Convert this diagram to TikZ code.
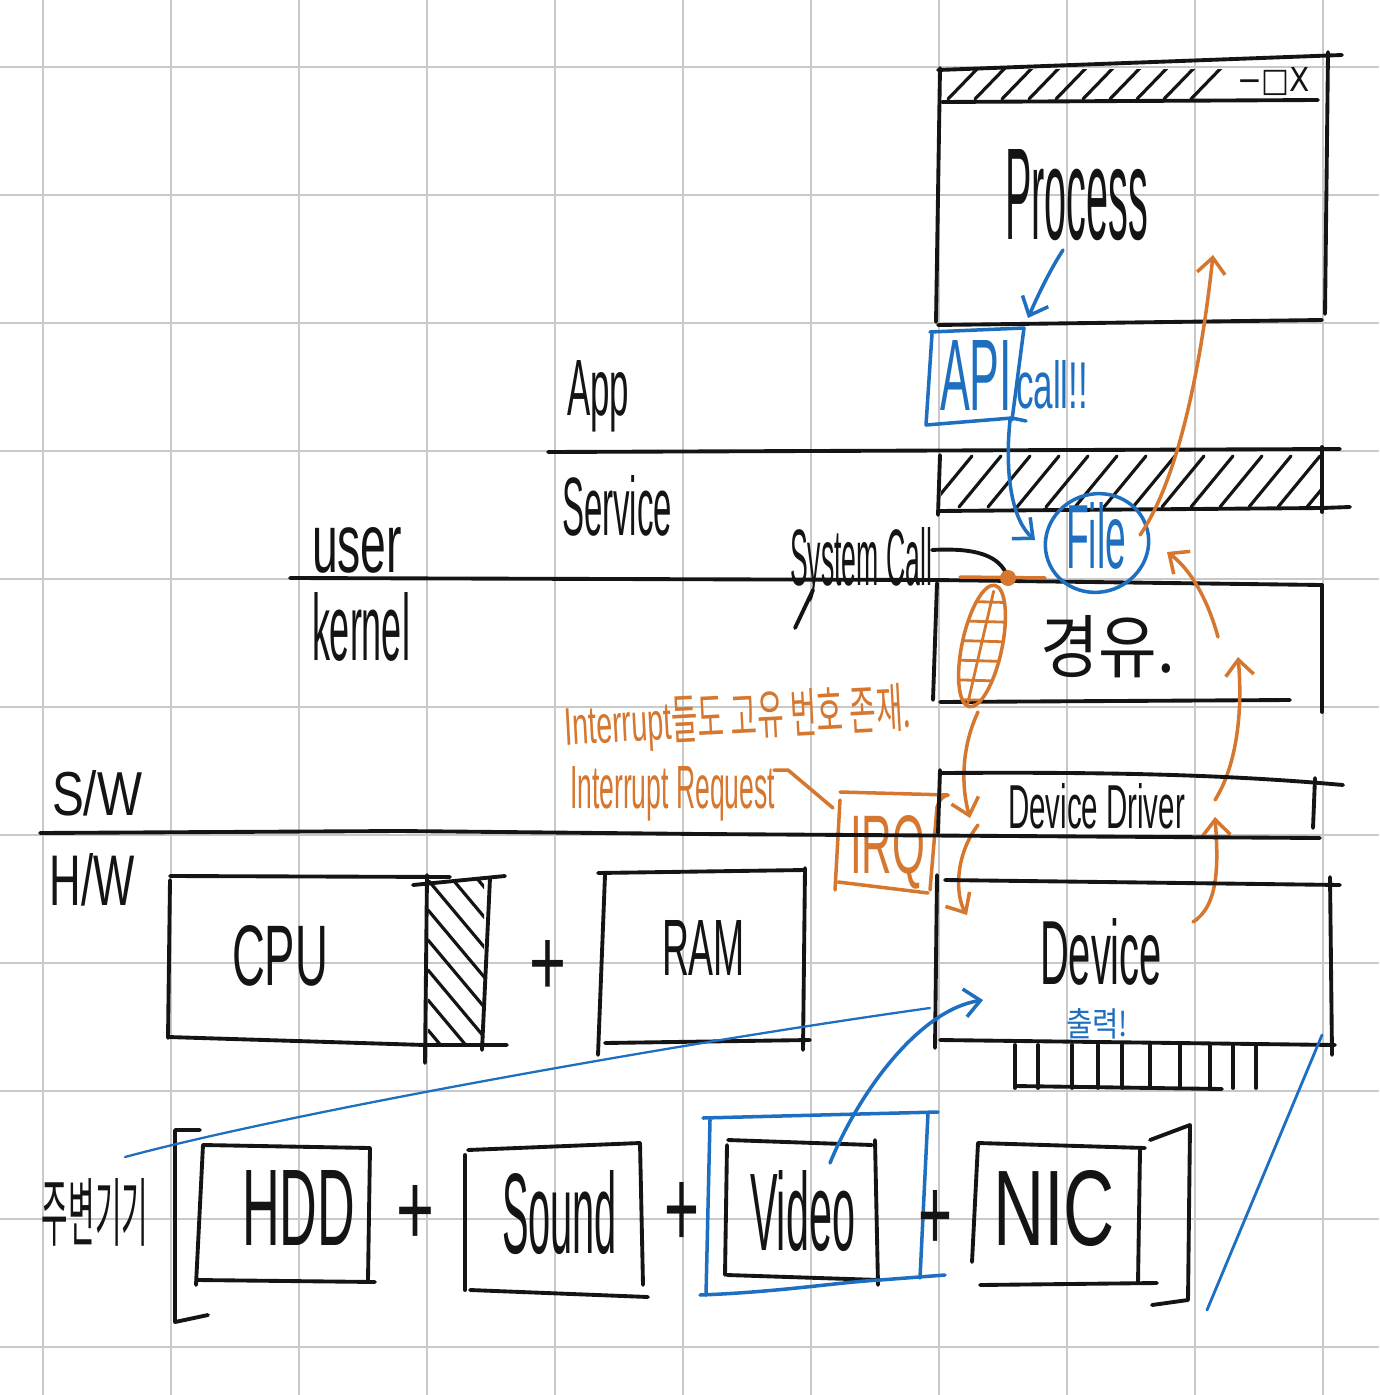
\documentclass[tikz,border=0pt]{standalone}
\usepackage{fontspec}
\usepackage{graphicx}
\setmainfont{Liberation Sans}
\newfontfamily\kr{Noto Sans CJK KR}
\newfontfamily\djv{DejaVu Sans}
\usetikzlibrary{arrows.meta}
\newdimen\pxu \pxu=0.02cm
\newcommand{\fit}[3]{\resizebox{#1\pxu}{#2\pxu}{#3}}
\definecolor{ink}{HTML}{141414}
\definecolor{bl}{HTML}{1E6FC0}
\definecolor{org}{HTML}{D5772E}
\definecolor{gridc}{HTML}{C9C9C9}
\begin{document}
\begin{tikzpicture}[x=0.02cm,y=-0.02cm,
  pen/.style={draw=ink,line width=2.2pt,line cap=round,line join=round},
  hpen/.style={draw=ink,line width=1.8pt,line cap=round},
  bpen/.style={draw=bl,line width=2pt,line cap=round,line join=round},
  opn/.style={draw=org,line width=2pt,line cap=round,line join=round},
  barb/.style={-{Straight Barb[length=9pt,width=16pt]}},
  txt/.style={inner sep=0pt,outer sep=0pt,anchor=base west,text=ink},
  pls/.style={inner sep=0pt,outer sep=0pt,anchor=center,text=ink}]
\useasboundingbox (0,0) rectangle (1379,1395);
\fill[white] (0,0) rectangle (1379,1395);
% grid
\foreach \i in {0,...,10}{
  \draw[gridc,line width=1.6pt] ({43+128*\i},0) -- ({43+128*\i},1395);
  \draw[gridc,line width=1.6pt] (0,{67+128*\i}) -- (1379,{67+128*\i});
}
% ---------- Process window ----------
\draw[pen] (938,70) -- (1342,55);
\draw[pen] (942,102) -- (1318,100);
\draw[pen] (940,68) -- (936,322);
\draw[pen] (1328,52) -- (1325,314);
\draw[pen] (938,325) -- (1322,320);
\begin{scope}
\clip (942,70) rectangle (1222,100);
\foreach \i in {0,...,9} \draw[hpen] ({948+27*\i},99) -- ({980+27*\i},66);
\end{scope}
\node[txt] (winbtn) at (1237,92) {\fit{73}{24}{\djv −□X}};
\node[txt] (proc) at (1005,240) {\fit{143}{90}{Process}};
% ---------- API box ----------
\draw[bpen] (930,332) -- (1024,328) -- (1012,420);
\draw[bpen] (932,334) -- (926,425) -- (1012,418) -- (1026,421);
\node[txt,text=bl] (api) at (940,410) {\fit{72}{70}{API}};
\node[txt,text=bl] (call) at (1016,408) {\fit{72}{48}{call!!}};
\coordinate (pa1) at (1063,250);
\coordinate (pa2) at (1028,318);
\draw[bpen,barb] (pa1) .. controls (1050,270) and (1038,295) .. (pa2);
% ---------- App / Service band ----------
\draw[pen] (548,452) -- (1340,449);
\draw[pen] (940,455) -- (938,515);
\draw[pen] (1322,447) -- (1322,512);
\draw[pen] (938,511) -- (1322,508) -- (1350,507);
\begin{scope}
\clip (941,453) rectangle (1320,509);
\foreach \i in {0,...,13} \draw[hpen] ({930+29*\i},507) -- ({972+29*\i},456);
\end{scope}
\node[txt] (app) at (567,415) {\fit{62}{55}{App}};
\node[txt] (svc) at (562,535) {\fit{110}{60}{Service}};
% ---------- user / kernel ----------
\draw[pen] (290,578) -- (935,580);
\node[txt] (user) at (312,572) {\fit{90}{45}{user}};
\node[txt] (kern) at (312,660) {\fit{98}{68}{kernel}};
% kernel box
\draw[pen] (935,580) -- (1322,585);
\draw[pen] (937,583) -- (933,700);
\draw[pen] (1322,585) -- (1322,712);
\draw[pen] (940,702) -- (1290,700);
\node[txt] (kyu) at (1040,672) {\fit{135}{57}{\kr 경유.}};
% File
\draw[bpen,rotate around={20:(1097,543)}] (1097,543) ellipse [x radius=52, y radius=49];
\node[txt,text=bl] (file) at (1066,568) {\fit{60}{66}{File}};
\coordinate (af1) at (1010,420);
\coordinate (af2) at (1035,540);
\draw[bpen,barb] (af1) .. controls (1004,480) and (1014,522) .. (af2);
% System call
\node[txt] (sysc) at (790,585) {\fit{142}{58}{System Call}};
\draw[pen] (813,590) -- (795,628);
\coordinate (sc1) at (932,550);
\coordinate (dot) at (1008,578);
\draw[pen] (sc1) .. controls (985,547) and (1002,560) .. (dot);
\draw[opn] (960,577) -- (1045,578);
\fill[org] (dot) circle [radius=8];
% orange leaf
\begin{scope}[rotate around={-12:(982,646)}]
\draw[opn] (982,646) ellipse [x radius=20, y radius=62];
\clip (982,646) ellipse [x radius=20, y radius=62];
\foreach \y in {600,620,...,700} \draw[opn,line width=1.6pt] (955,\y+6) -- (1010,\y-4);
\draw[opn,line width=1.6pt] (982,590) -- (980,705);
\end{scope}
% ---------- orange arrows ----------
\coordinate (o1a) at (1140,535);
\coordinate (o1b) at (1213,255);
\draw[opn,barb] (o1a) .. controls (1185,470) and (1205,330) .. (o1b);
\coordinate (o2a) at (1218,637);
\coordinate (o2b) at (1167,552);
\draw[opn,barb] (o2a) .. controls (1205,590) and (1185,565) .. (o2b);
\coordinate (o3a) at (1215,800);
\coordinate (o3b) at (1238,657);
\draw[opn,barb] (o3a) .. controls (1240,760) and (1242,700) .. (o3b);
\coordinate (o4a) at (1193,922);
\coordinate (o4b) at (1215,817);
\draw[opn,barb] (o4a) .. controls (1220,905) and (1218,860) .. (o4b);
\coordinate (o5a) at (978,712);
\coordinate (o5b) at (970,818);
\draw[opn,barb] (o5a) .. controls (960,750) and (962,790) .. (o5b);
\coordinate (o6a) at (978,825);
\coordinate (o6b) at (967,915);
\draw[opn,barb] (o6a) .. controls (955,855) and (955,895) .. (o6b);
% ---------- Interrupt labels & IRQ ----------
\node[txt,text=org,rotate=3] (irqt1) at (565,745) {\fit{347}{44}{Interrupt{\kr 들도 고유 번호 존재.}}};
\node[txt,text=org] (irqt2) at (570,808) {\fit{205}{42}{Interrupt Request}};
\draw[opn] (840,792) -- (948,795);
\draw[opn] (840,800) -- (835,890);
\draw[opn] (930,890) -- (937,807) .. controls (939,800) and (943,796) .. (948,795);
\draw[opn] (838,882) -- (928,893);
\node[txt,text=org] (irq) at (850,873) {\fit{75}{58}{IRQ}};
\coordinate (rq1) at (774,770);
\coordinate (rq2) at (833,808);
\draw[opn] (rq1) -- (788,770) -- (rq2);
% ---------- Device driver ----------
\draw[pen] (942,773) .. controls (1100,772) and (1220,774) .. (1343,785);
\draw[pen] (940,770) -- (938,833);
\draw[pen] (1315,778) -- (1313,828);
\node[txt] (dd) at (1008,828) {\fit{177}{45}{Device Driver}};
% S/W H/W line
\draw[pen] (40,833) -- (400,831) -- (700,834) -- (1320,838);
\node[txt] (sw) at (52,815) {\fit{90}{45}{S/W}};
\node[txt] (hw) at (50,905) {\fit{85}{52}{H/W}};
% ---------- CPU ----------
\draw[pen] (170,876) -- (450,877);
\draw[pen] (413,885) -- (505,876);
\draw[pen] (170,880) -- (168,1038);
\draw[pen] (168,1037) -- (425,1045) -- (507,1045);
\draw[pen] (427,875) -- (425,1063);
\draw[pen] (490,878) -- (482,1050);
\begin{scope}
\clip (428,880) rectangle (484,1046);
\foreach \y in {820,850,...,1030} \draw[hpen] (428,\y) -- (485,\y+68);
\end{scope}
\node[txt] (cpu) at (232,985) {\fit{96}{60}{CPU}};
\node[pls] (plus1) at (548,968) {\fit{37}{55}{+}};
% RAM
\draw[pen] (598,873) -- (805,870);
\draw[pen] (605,875) -- (598,1055);
\draw[pen] (805,868) -- (803,1050);
\draw[pen] (605,1043) -- (810,1040);
\node[txt] (ram) at (662,975) {\fit{83}{55}{RAM}};
% ---------- Device ----------
\draw[pen] (945,880) -- (1340,885);
\draw[pen] (937,875) -- (935,1048);
\draw[pen] (1330,877) -- (1332,1055);
\draw[pen] (940,1040) -- (1335,1045);
\foreach \x in {1015,1038,1072,1098,1122,1150,1180,1210,1233,1256} \draw[pen] (\x,1045) -- (\x,1088);
\draw[pen] (1015,1086) -- (1222,1089);
\node[txt] (dev) at (1040,984) {\fit{122}{66}{Device}};
\node[txt,text=bl] (out) at (1066,1036) {\fit{62}{28}{\kr 출력!}};
% ---------- peripherals ----------
\node[txt] (periph) at (42,1240) {\fit{106}{62}{\kr 주변기기}};
\draw[pen] (200,1130) -- (175,1130) -- (175,1322) -- (208,1315);
\draw[pen] (203,1145) -- (370,1148);
\draw[pen] (203,1145) -- (196,1285);
\draw[pen] (370,1148) -- (368,1280);
\draw[pen] (198,1280) -- (375,1282);
\node[txt] (hdd) at (242,1245) {\fit{113}{75}{HDD}};
\node[pls] (plus2) at (415,1215) {\fit{38}{60}{+}};
\draw[pen] (468,1150) -- (640,1143);
\draw[pen] (465,1155) -- (465,1290);
\draw[pen] (640,1143) -- (643,1285);
\draw[pen] (470,1290) -- (648,1297);
\node[txt] (sound) at (502,1253) {\fit{115}{83}{Sound}};
\node[pls] (plus3) at (682,1215) {\fit{35}{65}{+}};
\draw[pen] (728,1140) -- (872,1145);
\draw[pen] (727,1145) -- (725,1275);
\draw[pen] (875,1140) -- (878,1285);
\draw[pen] (727,1275) -- (880,1280);
\node[txt] (video) at (750,1250) {\fit{105}{80}{Video}};
\draw[bpen] (703,1118) -- (938,1112);
\draw[bpen] (710,1120) -- (706,1295);
\draw[bpen] (928,1113) -- (920,1278);
\draw[bpen] (700,1295) .. controls (780,1292) and (840,1282) .. (880,1280) -- (945,1275);
\node[pls] (plus4) at (935,1220) {\fit{34}{60}{+}};
\draw[pen] (978,1143) -- (1145,1148);
\draw[pen] (978,1143) -- (972,1262);
\draw[pen] (1140,1150) -- (1138,1283);
\draw[pen] (980,1285) -- (1157,1283);
\node[txt] (nic) at (993,1245) {\fit{122}{75}{NIC}};
\draw[pen] (1150,1140) -- (1190,1125) -- (1188,1300) -- (1152,1305);
% ---------- blue connectors ----------
\coordinate (bl1) at (125,1157);
\coordinate (bl2) at (930,1008);
\draw[bl,line width=1.3pt,line cap=round] (bl1) .. controls (300,1110) and (700,1040) .. (bl2);
\coordinate (va) at (830,1163);
\coordinate (vb) at (983,1000);
\draw[bpen,barb] (va) .. controls (860,1090) and (920,1010) .. (vb);
\coordinate (rb1) at (1207,1310);
\coordinate (rb2) at (1322,1035);
\draw[bl,line width=1.6pt,line cap=round] (rb1) -- (rb2);
\end{tikzpicture}
\end{document}
